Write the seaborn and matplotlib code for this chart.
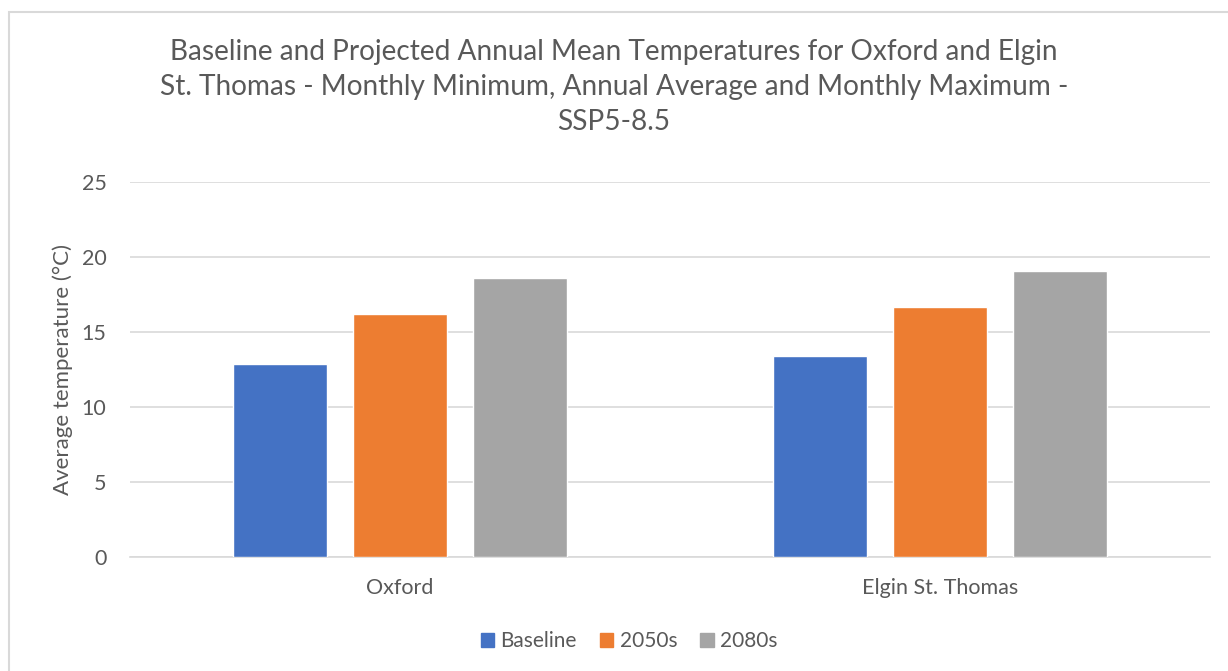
import matplotlib.pyplot as plt
import seaborn as sns
import pandas as pd
from matplotlib.patches import Rectangle

# Chart data
locations = ['Oxford', 'Elgin St. Thomas']
periods = ['Baseline', '2050s', '2080s']
baseline = [12.9, 13.4]
mid_century = [16.2, 16.7]
late_century = [18.6, 19.1]
colors = ['#4472C4', '#ED7D31', '#A5A5A5']

df = pd.DataFrame({
    'Location': locations * 3,
    'Period': [p for p in periods for _ in locations],
    'Temp': baseline + mid_century + late_century,
})

sns.set_style("white")
plt.rcParams['font.family'] = ['Lato', 'DejaVu Sans']
text_color = '#595959'

fig = plt.figure(figsize=(12.28, 6.71), dpi=100)
ax = fig.add_axes([130 / 1228, 1 - 557 / 671, 1080 / 1228, 375 / 671])

sns.barplot(data=df, x='Location', y='Temp', hue='Period', palette=colors,
            saturation=1, width=0.667, gap=0.213, ax=ax, legend=False, zorder=3)

ax.set_ylim(0, 25)
ax.set_yticks(range(0, 26, 5))
ax.grid(axis='y', color='#D9D9D9', linewidth=1.2, zorder=0)
ax.set_axisbelow(True)
for s in ['top', 'right', 'left']:
    ax.spines[s].set_visible(False)
ax.spines['bottom'].set_color('#D9D9D9')
ax.spines['bottom'].set_linewidth(1.2)
ax.tick_params(axis='y', length=0, pad=17, labelsize=15.5, labelcolor=text_color)
ax.tick_params(axis='x', length=0, pad=15, labelsize=15.5, labelcolor=text_color)
ax.set_xlabel('')
ax.set_ylabel('Average temperature (°C)', fontsize=16, color=text_color, labelpad=6)

fig.text(614 / 1228, 1 - 87 / 671,
         'Baseline and Projected Annual Mean Temperatures for Oxford and Elgin\n'
         'St. Thomas - Monthly Minimum, Annual Average and Monthly Maximum -\n'
         'SSP5-8.5',
         ha='center', va='center', fontsize=20.2, color=text_color, linespacing=1.42)

handles = [Rectangle((0, 0), 1, 1, color=c) for c in colors]
fig.legend(handles, periods, loc='center', bbox_to_anchor=(629 / 1228, 1 - 641 / 671),
           ncol=3, frameon=False, fontsize=15, labelcolor=text_color,
           handlelength=0.65, handleheight=0.65, handletextpad=0.3, columnspacing=1.1)

# chart frame
fig.patches.append(Rectangle((9 / 1228, -0.1), 1.5, 1 - 12 / 671 + 0.1, transform=fig.transFigure,
                             fill=False, edgecolor='#D9D9D9', linewidth=1.5))

fig.savefig('out.png', dpi=100)
